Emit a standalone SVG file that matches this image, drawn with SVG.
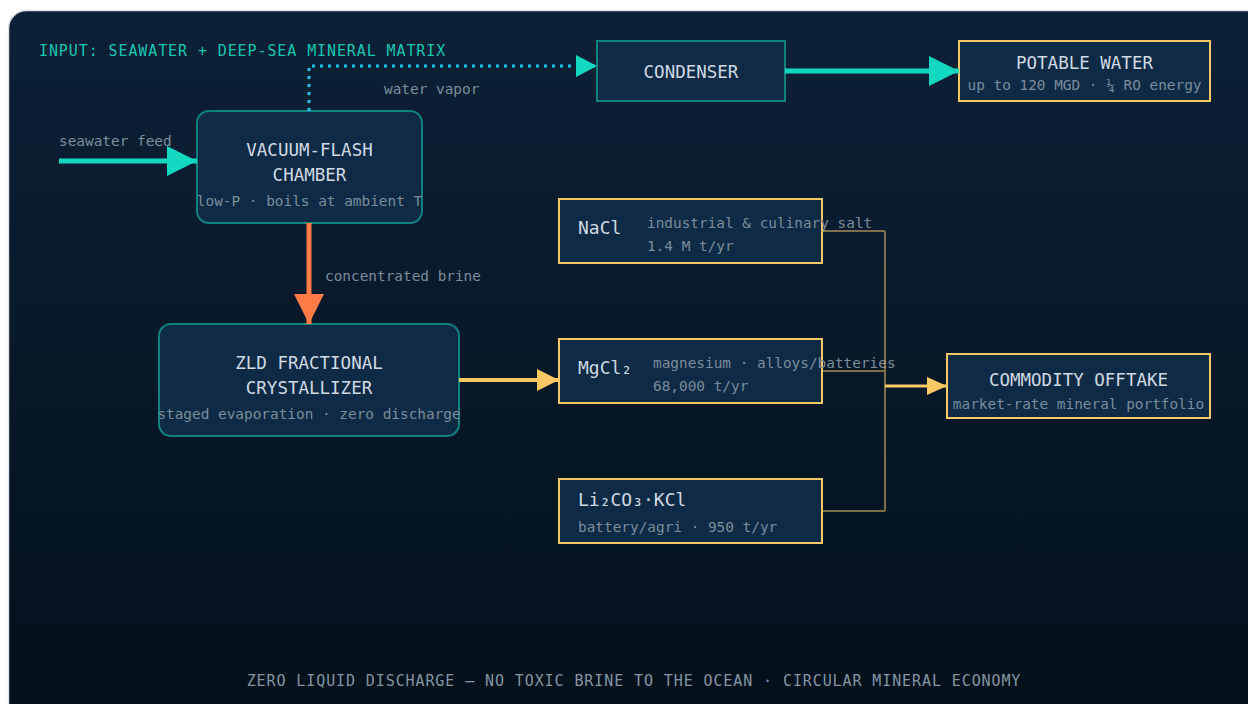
<svg xmlns="http://www.w3.org/2000/svg" width="1248" height="704" viewBox="0 0 1248 704">
<defs>
<linearGradient id="bg" x1="0" y1="0" x2="0" y2="1">
<stop offset="0" stop-color="#0c2037"/>
<stop offset="1" stop-color="#03101b"/>
</linearGradient>
<marker id="aTeal" markerUnits="userSpaceOnUse" markerWidth="30" markerHeight="30" refX="30" refY="15" orient="auto" viewBox="0 0 30 30"><path d="M0 0 L30 15 L0 30 Z" fill="#12d8c2"/></marker>
<marker id="aOrange" markerUnits="userSpaceOnUse" markerWidth="30" markerHeight="30" refX="30" refY="15" orient="auto" viewBox="0 0 30 30"><path d="M0 0 L30 15 L0 30 Z" fill="#ff7a45"/></marker>
<marker id="aTealS" markerUnits="userSpaceOnUse" markerWidth="21" markerHeight="22" refX="21" refY="11" orient="auto" viewBox="0 0 21 22"><path d="M0 0 L21 11 L0 22 Z" fill="#12d8c2"/></marker>
<marker id="aYel" markerUnits="userSpaceOnUse" markerWidth="22" markerHeight="22" refX="22" refY="11" orient="auto" viewBox="0 0 22 22"><path d="M0 0 L22 11 L0 22 Z" fill="#f9c963"/></marker>
<marker id="aYelS" markerUnits="userSpaceOnUse" markerWidth="20" markerHeight="18" refX="20" refY="9" orient="auto" viewBox="0 0 20 18"><path d="M0 0 L20 9 L0 18 Z" fill="#f9c963"/></marker>
</defs>
<style>
text{font-family:"DejaVu Sans Mono","Liberation Mono",monospace}
.box{fill:#0f2a45}
.teal{stroke:#10827d;stroke-width:2}
.yel{stroke:#f5c866;stroke-width:2}
.ttl{font-size:17.5px;fill:#cfdae3;text-anchor:middle}
.sub{font-size:14.4px;fill:#7b8d9b;text-anchor:middle}
.chem{font-size:18px;fill:#cfdae3}
.lbl{font-size:14.4px;fill:#7b8d9b}
</style>
<rect x="0" y="0" width="1248" height="704" fill="#ffffff"/>
<rect x="8.5" y="10.5" width="1260" height="720" rx="18" fill="url(#bg)" stroke="#dde2e8" stroke-width="1.5"/>
<text x="39" y="56" style="font-size:15px;letter-spacing:0.9px;fill:#17c6b2">INPUT: SEAWATER + DEEP-SEA MINERAL MATRIX</text>
<text x="634" y="686" style="font-size:15px;letter-spacing:0.9px;fill:#8595a3;text-anchor:middle">ZERO LIQUID DISCHARGE — NO TOXIC BRINE TO THE OCEAN · CIRCULAR MINERAL ECONOMY</text>

<g id="n-condenser">
<rect class="box teal" x="597" y="41" width="188" height="60"/>
<text class="ttl" x="691" y="77.5">CONDENSER</text>
</g>
<g id="n-potable">
<rect class="box yel" x="959" y="41" width="251" height="60"/>
<text class="ttl" x="1084.5" y="69">POTABLE WATER</text>
<text class="sub" x="1084.5" y="90">up to 120 MGD · ¼ RO energy</text>
</g>
<g id="n-vacuum">
<rect class="box teal" x="197" y="111" width="225" height="112" rx="12"/>
<text class="ttl" x="309.5" y="156">VACUUM-FLASH</text>
<text class="ttl" x="309.5" y="181">CHAMBER</text>
<text class="sub" x="309.5" y="206">low-P · boils at ambient T</text>
</g>
<g id="n-zld">
<rect class="box teal" x="159" y="324" width="300" height="112" rx="12"/>
<text class="ttl" x="309" y="369">ZLD FRACTIONAL</text>
<text class="ttl" x="309" y="394">CRYSTALLIZER</text>
<text class="sub" x="309" y="419">staged evaporation · zero discharge</text>
</g>
<g id="n-nacl">
<rect class="box yel" x="559" y="199" width="263" height="64"/>
<text class="chem" x="578" y="234">NaCl</text>
<text class="lbl" x="647" y="228">industrial &amp; culinary salt</text>
<text class="lbl" x="647" y="251">1.4 M t/yr</text>
</g>
<g id="n-mgcl">
<rect class="box yel" x="559" y="339" width="263" height="64"/>
<text class="chem" x="578" y="374">MgCl₂</text>
<text class="lbl" x="653" y="368">magnesium · alloys/batteries</text>
<text class="lbl" x="653" y="391">68,000 t/yr</text>
</g>
<g id="n-li">
<rect class="box yel" x="559" y="479" width="263" height="64"/>
<text class="chem" x="578" y="506">Li₂CO₃·KCl</text>
<text class="lbl" x="578" y="532">battery/agri · 950 t/yr</text>
</g>
<g id="n-offtake">
<rect class="box yel" x="947" y="354" width="263" height="64"/>
<text class="ttl" x="1078.5" y="386">COMMODITY OFFTAKE</text>
<text class="sub" x="1078.5" y="409">market-rate mineral portfolio</text>
</g>

<g id="connectors" fill="none">
<path d="M309 111 V66 H597" stroke="#22c3e6" stroke-width="3" stroke-dasharray="3 5" marker-end="url(#aTealS)"/>
<path d="M785 71 H959" stroke="#12d8c2" stroke-width="5" marker-end="url(#aTeal)"/>
<path d="M59 161 H197" stroke="#12d8c2" stroke-width="5" marker-end="url(#aTeal)"/>
<path d="M309 223 V324" stroke="#ff7a45" stroke-width="5" marker-end="url(#aOrange)"/>
<path d="M459 380 H559" stroke="#f9c963" stroke-width="4" marker-end="url(#aYel)"/>
<path d="M822 231 H885 M822 371 H885 M822 511 H885 M885 231 V511" stroke="#f5c866" stroke-opacity="0.5" stroke-width="2"/>
<path d="M885 386 H947" stroke="#f9c963" stroke-width="3" marker-end="url(#aYelS)"/>
<text class="lbl" x="384" y="94" stroke="none">water vapor</text>
<text class="lbl" x="59" y="146" stroke="none">seawater feed</text>
<text class="lbl" x="325" y="281" stroke="none">concentrated brine</text>
</g>
</svg>
